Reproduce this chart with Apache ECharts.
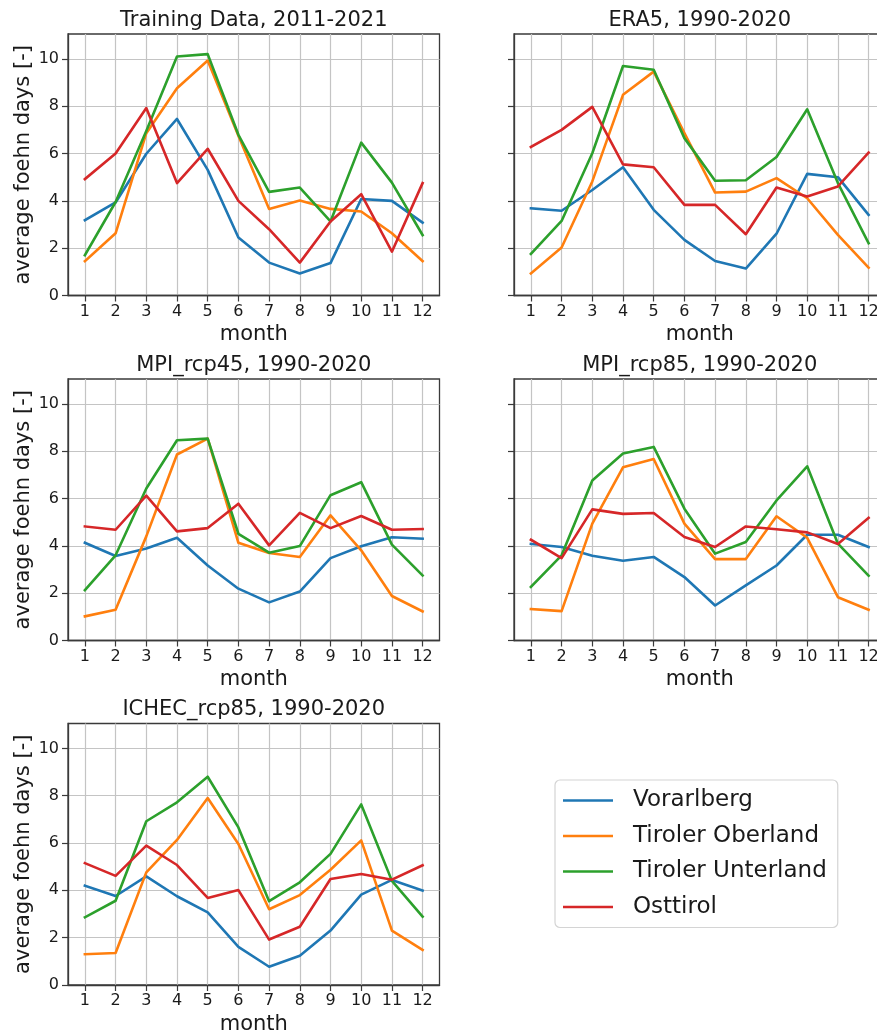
<!DOCTYPE html>
<html>
<head>
<meta charset="utf-8">
<script src="https://cdn.jsdelivr.net/npm/echarts@6/dist/echarts.min.js"></script>
<style>
html,body{margin:0;padding:0;background:#fff;}
#chart{width:877px;height:1035px;}
</style>
</head>
<body>
<div id="chart"></div>
<script>
const months = [1,2,3,4,5,6,7,8,9,10,11,12];
const monthTicks = [1,2,3,4,5,6,7,8,9,10,11,12];
const yTicks = [0,2,4,6,8,10];
const regions = ['Vorarlberg','Tiroler Oberland','Tiroler Unterland','Osttirol'];
const colors = ['#1f77b4','#ff7f0e','#2ca02c','#d62728'];
const panelTitles = ['Training Data, 2011-2021','ERA5, 1990-2020','MPI_rcp45, 1990-2020','MPI_rcp85, 1990-2020','ICHEC_rcp85, 1990-2020'];

// Training Data
const train_vorarlberg = [3.18,3.93,5.99,7.46,5.31,2.45,1.39,0.93,1.37,4.08,4.00,3.08];
const train_oberland   = [1.45,2.63,6.86,8.76,9.93,6.75,3.66,4.01,3.66,3.55,2.63,1.45];
const train_unterland  = [1.70,3.95,6.95,10.10,10.20,6.79,4.38,4.56,3.13,6.46,4.77,2.55];
const train_osttirol   = [4.92,6.00,7.92,4.75,6.20,4.00,2.80,1.39,3.13,4.28,1.85,4.75];
// ERA5
const era5_vorarlberg = [3.68,3.58,4.46,5.42,3.62,2.35,1.46,1.14,2.61,5.14,5.00,3.41];
const era5_oberland   = [0.93,2.03,4.82,8.48,9.46,6.86,4.35,4.39,4.96,4.11,2.56,1.18];
const era5_unterland  = [1.76,3.15,6.01,9.70,9.54,6.65,4.85,4.87,5.85,7.87,4.75,2.21];
const era5_osttirol   = [6.28,7.00,7.97,5.54,5.42,3.83,3.83,2.59,4.56,4.18,4.61,6.04];
// MPI_rcp45
const rcp45_vorarlberg = [4.13,3.57,3.89,4.34,3.17,2.19,1.61,2.07,3.48,3.98,4.36,4.30];
const rcp45_oberland   = [1.02,1.30,4.40,7.86,8.53,4.13,3.70,3.53,5.29,3.81,1.88,1.23];
const rcp45_unterland  = [2.13,3.60,6.42,8.46,8.53,4.51,3.71,3.99,6.14,6.69,4.05,2.75];
const rcp45_osttirol   = [4.82,4.68,6.12,4.61,4.75,5.78,4.02,5.39,4.75,5.26,4.68,4.71];
// MPI_rcp85
const rcp85_vorarlberg = [4.08,3.95,3.58,3.37,3.53,2.68,1.48,2.33,3.17,4.47,4.47,3.95];
const rcp85_oberland   = [1.33,1.24,4.94,7.32,7.67,4.94,3.44,3.44,5.25,4.34,1.83,1.30];
const rcp85_unterland  = [2.26,3.60,6.76,7.90,8.18,5.57,3.67,4.16,5.92,7.36,4.09,2.74];
const rcp85_osttirol   = [4.26,3.48,5.54,5.35,5.39,4.37,3.95,4.82,4.70,4.57,4.08,5.18];
// ICHEC_rcp85
const ichec_vorarlberg = [4.20,3.76,4.59,3.75,3.07,1.61,0.77,1.24,2.30,3.82,4.44,3.99];
const ichec_oberland   = [1.30,1.35,4.76,6.13,7.90,5.96,3.20,3.80,4.87,6.11,2.30,1.48];
const ichec_unterland  = [2.86,3.56,6.92,7.72,8.80,6.66,3.54,4.34,5.54,7.63,4.40,2.89];
const ichec_osttirol   = [5.15,4.61,5.89,5.07,3.68,4.01,1.92,2.46,4.48,4.69,4.45,5.06];

const panelData = [
  [train_vorarlberg,train_oberland,train_unterland,train_osttirol],
  [era5_vorarlberg,era5_oberland,era5_unterland,era5_osttirol],
  [rcp45_vorarlberg,rcp45_oberland,rcp45_unterland,rcp45_osttirol],
  [rcp85_vorarlberg,rcp85_oberland,rcp85_unterland,rcp85_osttirol],
  [ichec_vorarlberg,ichec_oberland,ichec_unterland,ichec_osttirol]
];

const FONT = '"DejaVu Sans", sans-serif';
const TXT = '#1a1a1a';
const colLeft = [68, 514];
const rowTop = [34, 379, 723.5];
const gw = 371.5, gh = 261.5;
const layout = [[0,0],[1,0],[0,1],[1,1],[0,2]];

const grids = [], xAxes = [], yAxes = [], series = [], titles = [];
layout.forEach(([c,r], p) => {
  const left = colLeft[c], top = rowTop[r];
  grids.push({left: left, top: top, width: gw, height: gh, show: true,
    outerBoundsMode: 'none',
    borderColor: '#3a3a3a', borderWidth: 1.3, backgroundColor: 'transparent', containLabel: false});
  titles.push({text: panelTitles[p], left: left + gw/2, top: top - 24, textAlign: 'center', padding: 0,
    textStyle: {fontFamily: FONT, fontSize: 21, fontWeight: 'normal', color: TXT}});
  xAxes.push({type: 'value', gridIndex: p, min: 0.45, max: 12.55,
    name: 'month', nameLocation: 'middle', nameGap: 29,
    nameTextStyle: {fontFamily: FONT, fontSize: 21, color: TXT},
    axisLine: {show: true, lineStyle: {color: '#3a3a3a', width: 1.3}},
    axisTick: {show: true, length: 6, customValues: monthTicks, lineStyle: {color: '#3a3a3a', width: 1.2}},
    axisLabel: {show: true, customValues: monthTicks, margin: 8, fontFamily: FONT, fontSize: 16, color: TXT},
    splitLine: {show: true, lineStyle: {color: '#c4c4c4', width: 1.2}}});
  const showY = (c === 0);
  yAxes.push({type: 'value', gridIndex: p, min: 0, max: 11.05,
    name: showY ? 'average foehn days [-]' : '', nameLocation: 'middle', nameGap: 34, nameRotate: 90,
    nameTextStyle: {fontFamily: FONT, fontSize: 21, color: TXT},
    axisLine: {show: true, lineStyle: {color: '#3a3a3a', width: 1.3}},
    axisTick: {show: true, length: 6, customValues: yTicks, lineStyle: {color: '#3a3a3a', width: 1.2}},
    axisLabel: {show: showY, customValues: yTicks, margin: 9, fontFamily: FONT, fontSize: 16, color: TXT},
    splitLine: {show: true, lineStyle: {color: '#c4c4c4', width: 1.2}}});
  panelData[p].forEach((vals, k) => {
    series.push({type: 'line', name: regions[k], xAxisIndex: p, yAxisIndex: p,
      data: months.map((m, i) => [m, vals[i]]),
      showSymbol: false, symbol: 'none', silent: true,
      lineStyle: {color: colors[k], width: 2.6, join: 'round', cap: 'square'},
      itemStyle: {color: colors[k]}, z: 2 + k});
  });
});

const chart = echarts.init(document.getElementById('chart'), null, {renderer: 'canvas'});
chart.setOption({
  animation: false,
  backgroundColor: '#fff',
  title: titles,
  grid: grids,
  xAxis: xAxes,
  yAxis: yAxes,
  series: series,
  legend: {
    data: regions, orient: 'vertical', left: 555, top: 780,
    icon: 'rect', itemWidth: 50, itemHeight: 2.5, itemGap: 12.5,
    padding: [9, 11, 9, 8],
    backgroundColor: '#fff', borderColor: '#d4d4d4', borderWidth: 1.2, borderRadius: 5,
    textStyle: {fontFamily: FONT, fontSize: 23, color: TXT, lineHeight: 23, padding: [0,0,0,15]},
    selectedMode: false
  }
});
</script>
</body>
</html>
